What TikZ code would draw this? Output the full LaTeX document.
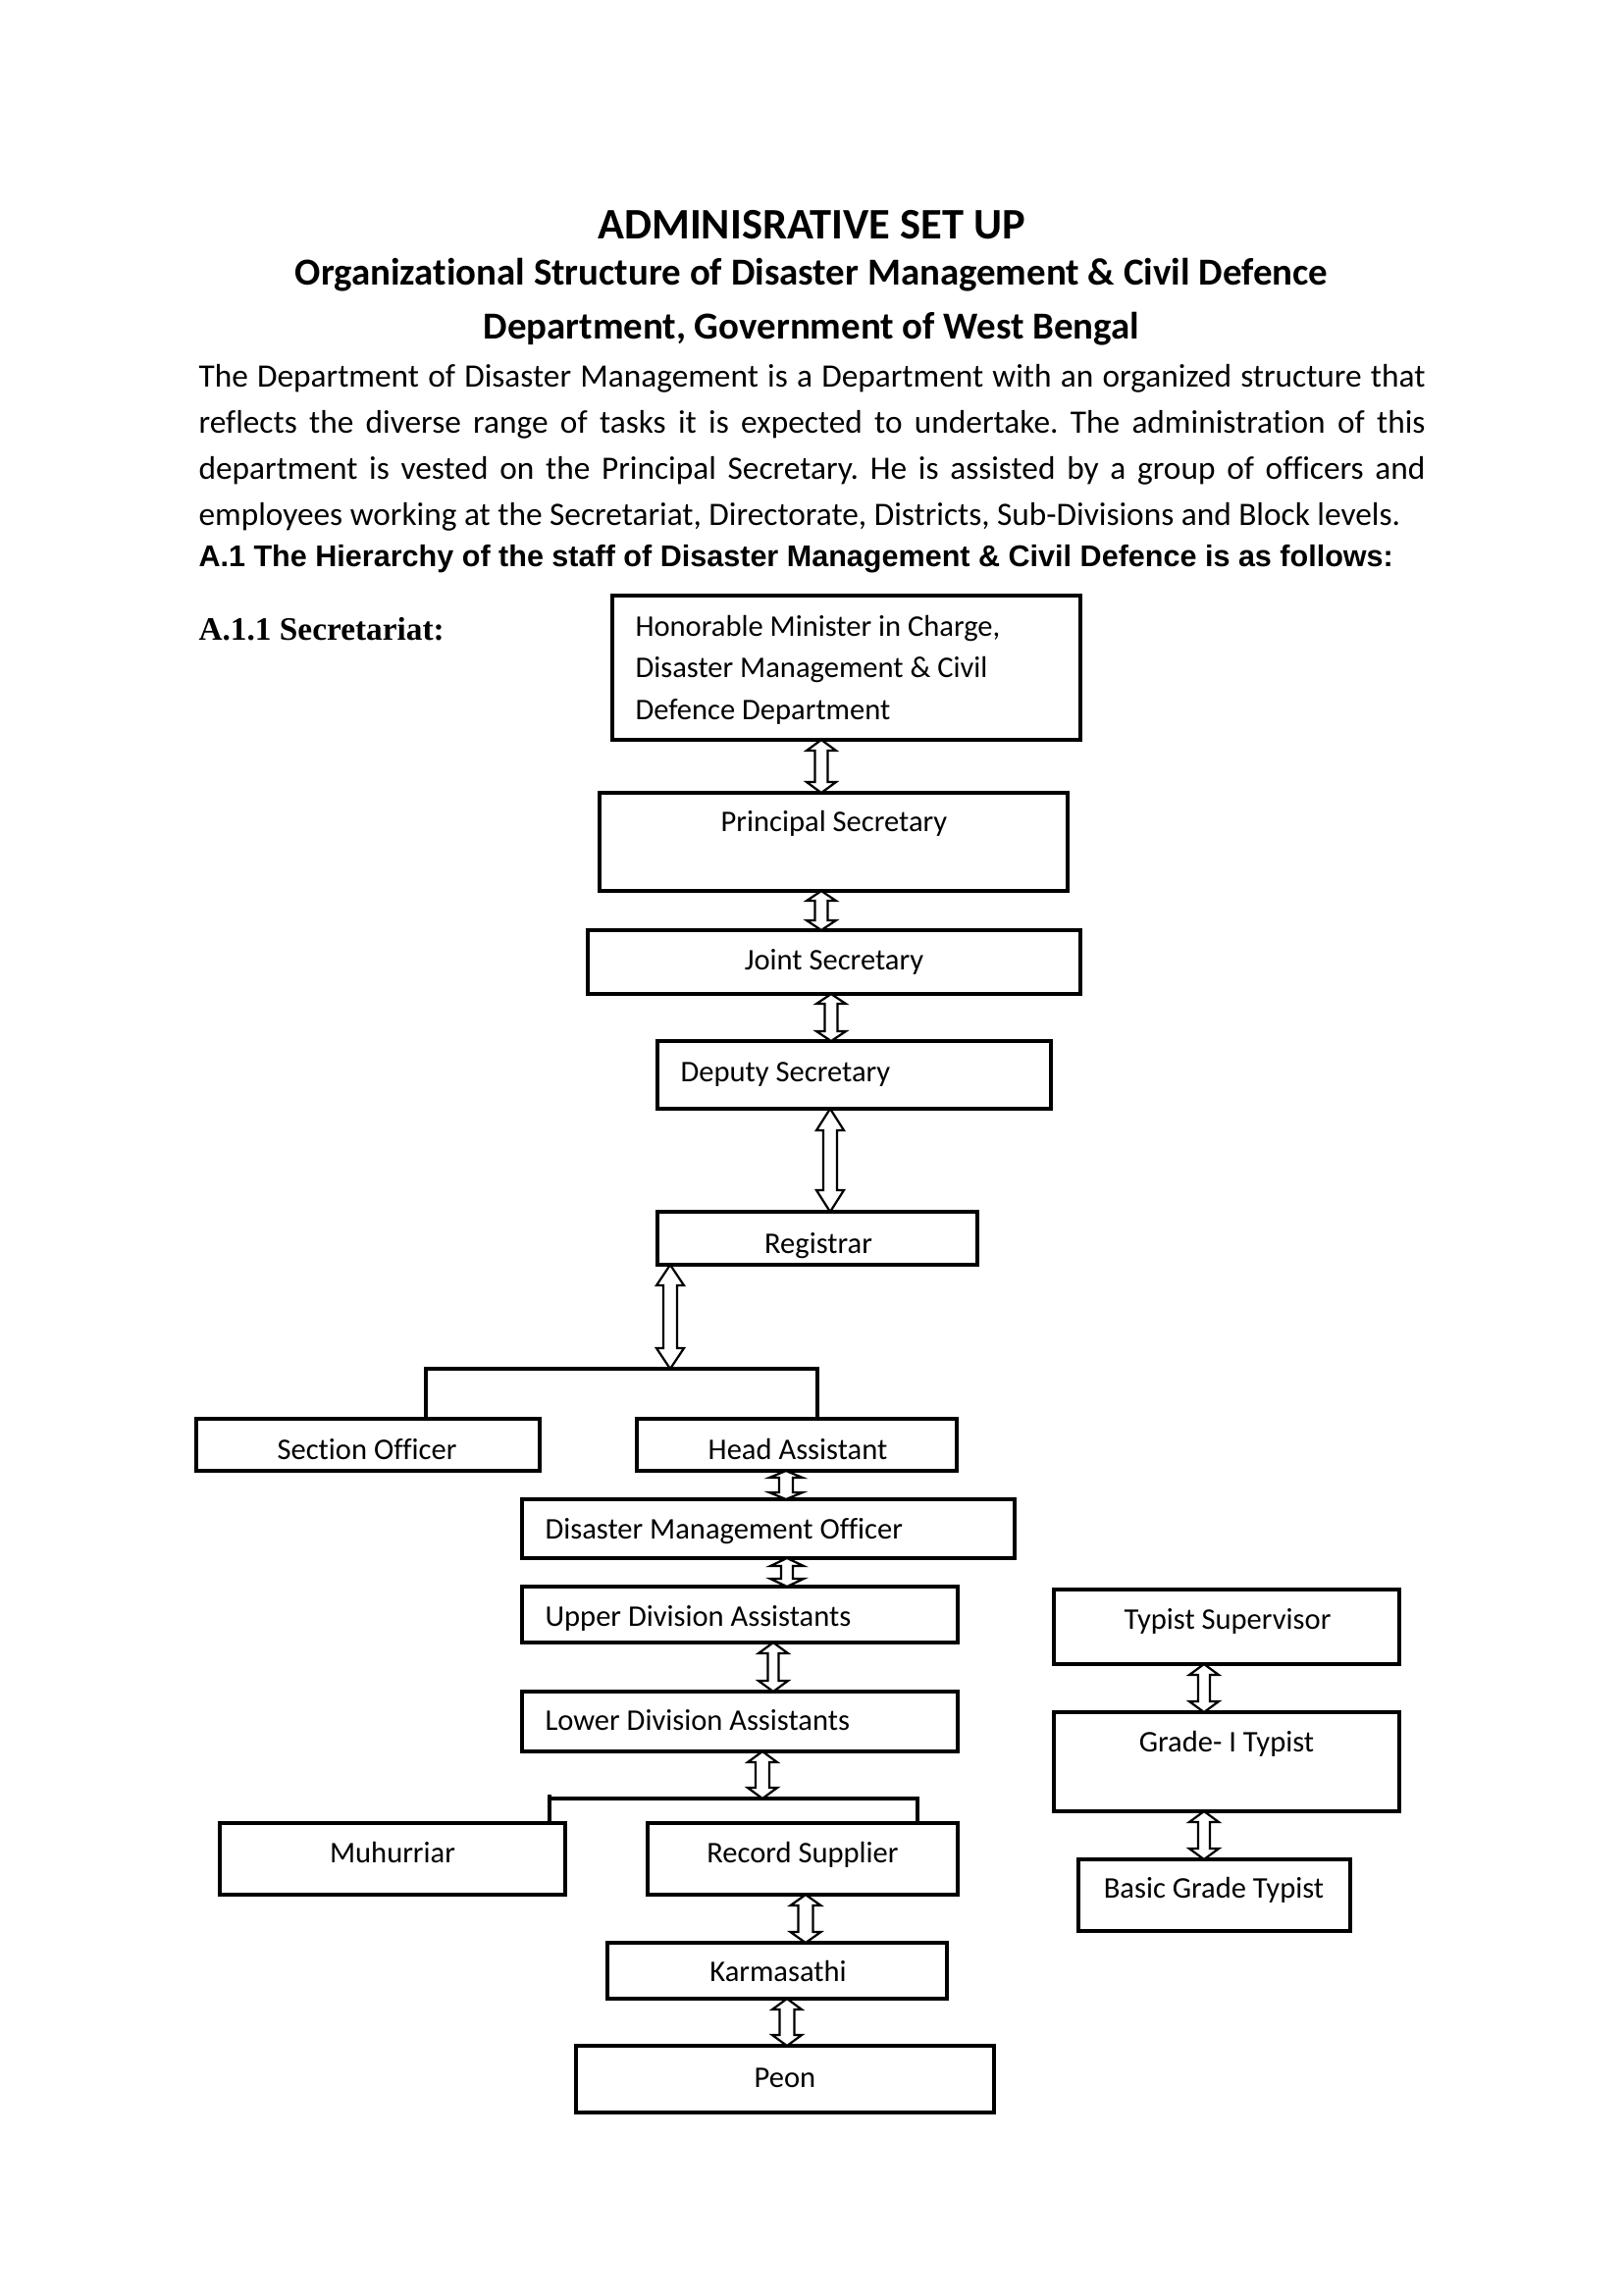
\documentclass[tikz,border=0pt]{standalone}
\usepackage{fontspec}
\setmainfont{Carlito}[Ligatures=NoCommon]
\newfontfamily\arialf{Liberation Sans}
\newfontfamily\timesf{Liberation Serif}
\usetikzlibrary{calc}
\frenchspacing
\newcommand\udarr[5]{\draw[arr] let \p1=(#1), \p2=(#2) in
 (\x1,\y1) -- (\x1+#3*0.36pt,\y1-#5*0.36pt) -- (\x1+#4*0.36pt,\y1-#5*0.36pt)
 -- (\x1+#4*0.36pt,\y2+#5*0.36pt) -- (\x1+#3*0.36pt,\y2+#5*0.36pt) -- (\x1,\y2)
 -- (\x1-#3*0.36pt,\y2+#5*0.36pt) -- (\x1-#4*0.36pt,\y2+#5*0.36pt)
 -- (\x1-#4*0.36pt,\y1-#5*0.36pt) -- (\x1-#3*0.36pt,\y1-#5*0.36pt) -- cycle;}
\newcommand\bx[5]{\node[box, minimum width={(#4-#2)*0.36pt}, minimum height={(#5-#3)*0.36pt}] (#1) at ({(#2+#4)/2},{(#3+#5)/2}) {};}
\begin{document}
\begin{tikzpicture}[x=0.36pt,y=-0.36pt,
 box/.style={draw, line width=1.1pt, inner sep=0pt, outer sep=0pt},
 conn/.style={line width=1.2pt},
 arr/.style={draw, line width=0.8pt, fill=white, line join=miter},
 lbl/.style={inner sep=0pt, font=\fontsize{11}{13}\selectfont},
 body/.style={inner sep=0pt, anchor=base west, font=\fontsize{12}{14}\selectfont},
]
\useasboundingbox[fill=white] (0,0) rectangle (1654,2339);
% headings
\node[inner sep=0pt, anchor=base, font=\fontsize{16}{19}\selectfont\bfseries] (title) at (827,243) {ADMINISRATIVE SET UP};
\node[inner sep=0pt, anchor=base, font=\fontsize{14}{17}\selectfont\bfseries] (sub1) at (827,290) {Organizational Structure of Disaster Management \& Civil Defence};
\node[inner sep=0pt, anchor=base, font=\fontsize{14}{17}\selectfont\bfseries] (sub2) at (827,345) {Department, Government of West Bengal};
\node[body] (p1) at (202,394) {\makebox[450pt][s]{The Department of Disaster Management is a Department with an organized structure that}};
\node[body] (p2) at (202,441) {\makebox[450pt][s]{reflects the diverse range of tasks it is expected to undertake. The administration of this}};
\node[body] (p3) at (202,488) {\makebox[450pt][s]{department is vested on the Principal Secretary. He is assisted by a group of officers and}};
\node[body] (p4) at (202,535) {employees working at the Secretariat, Directorate, Districts, Sub-Divisions and Block levels.};
\node[inner sep=0pt, anchor=base west, font=\fontsize{11}{13}\selectfont\arialf\bfseries] (a1) at (202,577) {A.1 The Hierarchy of the staff of Disaster Management \& Civil Defence is as follows:};
\node[inner sep=0pt, anchor=base west, font=\fontsize{12}{14}\selectfont\timesf\bfseries] (a11) at (202,652) {A.1.1 Secretariat:};
% boxes
\bx{min}{624}{607}{1101}{754}
\bx{prin}{611}{808}{1088}{908}
\bx{joint}{599}{948}{1101}{1013}
\bx{dep}{670}{1061}{1071}{1130}
\bx{reg}{670}{1235}{996}{1289}
\bx{so}{200}{1446}{550}{1499}
\bx{ha}{649}{1446}{975}{1499}
\bx{dmo}{532}{1528}{1034}{1588}
\bx{uda}{532}{1617}{976}{1674}
\bx{lda}{532}{1724}{976}{1785}
\bx{muh}{224}{1858}{576}{1931}
\bx{rs}{660}{1858}{976}{1931}
\bx{karm}{619}{1980}{965}{2037}
\bx{peon}{587}{2085}{1013}{2153}
\bx{ts}{1074}{1620}{1426}{1696}
\bx{gone}{1074}{1745}{1426}{1846}
\bx{bgt}{1099}{1895}{1376}{1968}
% texts
\node[lbl, anchor=base west] (tmin1) at (647,648) {Honorable Minister in Charge,};
\node[lbl, anchor=base west] (tmin2) at (647,690) {Disaster Management \& Civil};
\node[lbl, anchor=base west] (tmin3) at (647,733) {Defence Department};
\node[lbl, anchor=base] (tprin) at (850,847) {Principal Secretary};
\node[lbl, anchor=base] (tjoint) at (850,988) {Joint Secretary};
\node[lbl, anchor=base west] (tdep) at (693,1102) {Deputy Secretary};
\node[lbl, anchor=base] (treg) at (834,1277) {Registrar};
\node[lbl, anchor=base] (tso) at (374,1487) {Section Officer};
\node[lbl, anchor=base] (tha) at (813,1487) {Head Assistant};
\node[lbl, anchor=base west] (tdmo) at (555,1568) {Disaster Management Officer};
\node[lbl, anchor=base west] (tuda) at (555,1657) {Upper Division Assistants};
\node[lbl, anchor=base west] (tlda) at (555,1763) {Lower Division Assistants};
\node[lbl, anchor=base] (tmuh) at (400,1898) {Muhurriar};
\node[lbl, anchor=base] (trs) at (818,1898) {Record Supplier};
\node[lbl, anchor=base] (tkarm) at (793,2019) {Karmasathi};
\node[lbl, anchor=base] (tpeon) at (800,2127) {Peon};
\node[lbl, anchor=base] (tts) at (1251,1660) {Typist Supervisor};
\node[lbl, anchor=base] (tgone) at (1250,1785) {Grade- I Typist};
\node[lbl, anchor=base] (tbgt) at (1237,1934) {Basic Grade Typist};
% arrow x positions and branch points
\coordinate (x1) at (837,0);
\coordinate (x3) at (847,0);
\coordinate (x4) at (846,0);
\coordinate (x6) at (801,0);
\coordinate (x7) at (802,0);
\coordinate (x8) at (788,0);
\coordinate (x10) at (821,0);
\coordinate (x11) at (802,0);
\coordinate (x12) at (1227,0);
\coordinate (b1l) at (434,1395);
\coordinate (b1m) at (683,1395);
\coordinate (b1r) at (833,1395);
\coordinate (b2l) at (560,1833);
\coordinate (b2lt) at (560,1829);
\coordinate (b2m) at (777,1833);
\coordinate (b2r) at (935,1833);
% branch lines
\draw[conn] (so.north -| b1l) -- (b1l) -- (b1r) -- (ha.north -| b1r);
\draw[conn] (b2lt) -- (muh.north -| b2l);
\draw[conn] (b2l) -- (b2r) -- (rs.north -| b2r);
% arrows
\udarr{min.south -| x1}{prin.north -| x1}{15}{6.5}{11}
\udarr{prin.south -| x1}{joint.north -| x1}{15}{6.5}{10}
\udarr{joint.south -| x3}{dep.north -| x3}{15}{6.5}{10}
\udarr{dep.south -| x4}{reg.north -| x4}{14}{7}{22}
\udarr{reg.south -| b1m}{b1m}{14}{7}{21}
\udarr{ha.south -| x6}{dmo.north -| x6}{17}{7}{7}
\udarr{dmo.south -| x7}{uda.north -| x7}{17}{6}{8}
\udarr{uda.south -| x8}{lda.north -| x8}{15}{5.5}{11}
\udarr{lda.south -| b2m}{b2m}{15}{7}{11}
\udarr{rs.south -| x10}{karm.north -| x10}{15.5}{7.5}{11}
\udarr{karm.south -| x11}{peon.north -| x11}{15}{7.5}{11}
\udarr{ts.south -| x12}{gone.north -| x12}{15}{6}{11}
\udarr{gone.south -| x12}{bgt.north -| x12}{15}{6}{11}
\end{tikzpicture}
\end{document}
